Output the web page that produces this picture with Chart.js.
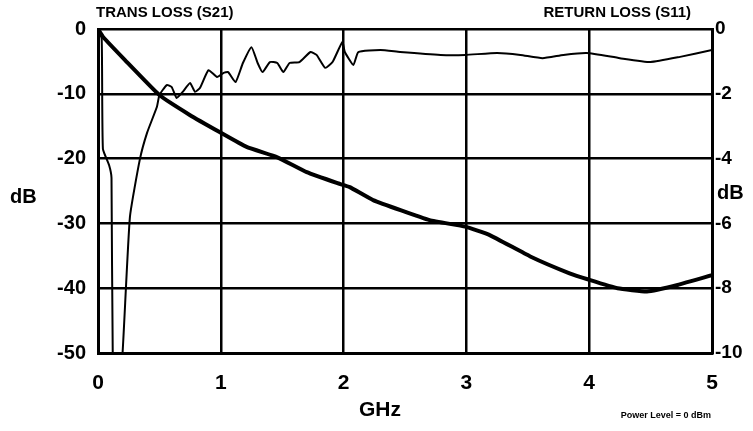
<!DOCTYPE html>
<html>
<head>
<meta charset="utf-8">
<script src="https://cdn.jsdelivr.net/npm/chart.js@4/dist/chart.umd.min.js"></script>
<style>
  html, body { margin: 0; padding: 0; background: #fff; }
  #wrap { width: 753px; height: 431px; }
</style>
</head>
<body>
<div id="wrap"><canvas id="lossChart" width="753" height="431"></canvas></div>
<script>
// frequency ticks (GHz) and the two dB axes
const ghzTicks = [0, 1, 2, 3, 4, 5];
const leftTicks = [0, -10, -20, -30, -40, -50];
const rightTicks = [0, -2, -4, -6, -8, -10];

// thick trace, read against the left axis
const s21Freq = [0, 0.04, 0.22, 0.5, 0.75, 0.99, 1.21, 1.46, 1.7, 1.95, 2.05, 2.24, 2.7, 2.99, 3.19, 3.52, 3.84, 4.0, 4.23, 4.47, 4.72, 5.0];
const s21Loss = [0, -1.2, -4.8, -10.2, -13.3, -15.9, -18.2, -19.8, -22.1, -23.8, -24.4, -26.4, -29.5, -30.5, -31.8, -35.1, -37.7, -38.7, -40.0, -40.5, -39.5, -38.0];

// thin trace, read against the right axis
const s11Freq = [0, 0.03, 0.04, 0.09, 0.11, 0.12, 0.16, 0.2, 0.26, 0.34, 0.4, 0.48, 0.5, 0.56, 0.6, 0.64, 0.69, 0.75, 0.79, 0.83, 0.9, 0.97, 1.02, 1.06, 1.12, 1.18, 1.25, 1.3, 1.34, 1.4, 1.46, 1.51, 1.56, 1.64, 1.73, 1.78, 1.85, 1.91, 1.99, 2.01, 2.08, 2.12, 2.3, 2.46, 2.79, 2.99, 3.25, 3.44, 3.62, 3.79, 3.98, 4.25, 4.5, 4.74, 5.0];
const s11Loss = [0, -0.3, -3.7, -4.2, -4.6, -10, -11.5, -10, -5.8, -4.04, -3.2, -2.4, -2.04, -1.73, -1.79, -2.13, -1.94, -1.67, -1.94, -1.82, -1.27, -1.48, -1.36, -1.33, -1.64, -1.05, -0.56, -1.05, -1.33, -1.02, -1.05, -1.33, -1.05, -1.02, -0.71, -0.8, -1.2, -1.02, -0.4, -0.71, -1.11, -0.71, -0.65, -0.71, -0.8, -0.8, -0.74, -0.8, -0.9, -0.8, -0.74, -0.9, -1.02, -0.86, -0.65];

const FONT = '"Liberation Sans", Arial, sans-serif';

// loose labels around the plot
const extraText = {
  id: 'extraText',
  afterDraw(chart) {
    const ctx = chart.ctx;
    ctx.save();
    ctx.fillStyle = '#000';
    ctx.textBaseline = 'middle';
    ctx.font = 'bold 15px ' + FONT;
    ctx.textAlign = 'left';
    ctx.fillText('TRANS LOSS (S21)', 96, 13);
    ctx.textAlign = 'right';
    ctx.fillText('RETURN LOSS (S11)', 691, 13);
    ctx.font = 'bold 20px ' + FONT;
    ctx.textAlign = 'left';
    ctx.fillText('dB', 10, 197);
    ctx.fillText('dB', 717, 193);
    ctx.font = 'bold 21px ' + FONT;
    ctx.textAlign = 'center';
    ctx.fillText('GHz', 380, 410);
    ctx.font = 'bold 9px ' + FONT;
    ctx.textAlign = 'right';
    ctx.fillText('Power Level = 0 dBm', 711, 416);
    ctx.restore();
  }
};

const ctx = document.getElementById('lossChart').getContext('2d');
const lossChart = new Chart(ctx, {
  type: 'line',
  data: {
    datasets: [
      {
        label: 'TRANS LOSS (S21)',
        data: s21Freq.map((f, i) => ({ x: f, y: s21Loss[i] })),
        yAxisID: 'y',
        borderColor: '#000',
        borderWidth: 4,
        pointRadius: 0,
        tension: 0.12,
      },
      {
        label: 'RETURN LOSS (S11)',
        data: s11Freq.map((f, i) => ({ x: f, y: s11Loss[i] })),
        yAxisID: 'y1',
        borderColor: '#000',
        borderWidth: 2,
        pointRadius: 0,
        tension: 0.15,
      },
    ],
  },
  options: {
    responsive: false,
    animation: false,
    layout: { padding: { top: 29, left: 0, right: 0, bottom: 0 } },
    plugins: {
      legend: { display: false },
      tooltip: { enabled: false },
    },
    scales: {
      x: {
        type: 'linear',
        min: ghzTicks[0],
        max: ghzTicks[ghzTicks.length - 1],
        afterFit: (scale) => { scale.height = 78; },
        afterBuildTicks: (scale) => { scale.ticks = ghzTicks.map(v => ({ value: v })); },
        grid: { color: '#000', lineWidth: 2.5, drawTicks: false },
        border: { color: '#000', width: 3 },
        ticks: {
          color: '#000',
          padding: 18,
          autoSkip: false,
          maxRotation: 0,
          font: { family: FONT, size: 21, weight: 'bold' },
        },
      },
      y: {
        position: 'left',
        min: Math.min(...leftTicks),
        max: Math.max(...leftTicks),
        afterFit: (scale) => { scale.width = 98; },
        afterBuildTicks: (scale) => { scale.ticks = leftTicks.map(v => ({ value: v })); },
        grid: { color: '#000', lineWidth: 2.5, drawTicks: false },
        border: { color: '#000', width: 3 },
        ticks: {
          color: '#000',
          padding: 12,
          font: { family: FONT, size: 20, weight: 'bold' },
        },
      },
      y1: {
        position: 'right',
        min: Math.min(...rightTicks),
        max: Math.max(...rightTicks),
        afterFit: (scale) => { scale.width = 41; },
        afterBuildTicks: (scale) => { scale.ticks = rightTicks.map(v => ({ value: v })); },
        grid: { display: false, drawTicks: false },
        border: { color: '#000', width: 3 },
        ticks: {
          color: '#000',
          padding: 3,
          font: { family: FONT, size: 19, weight: 'bold' },
        },
      },
    },
  },
  plugins: [extraText],
});
</script>
</body>
</html>
